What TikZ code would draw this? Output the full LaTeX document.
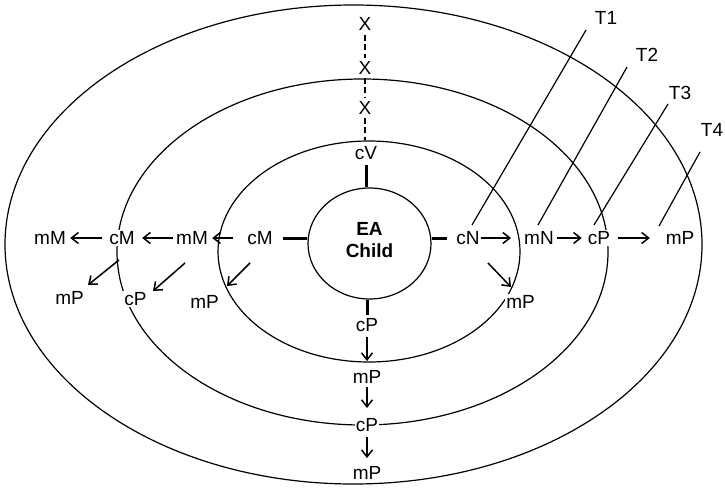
\documentclass[tikz,border=0pt]{standalone}
\usepackage{fontspec}
\setmainfont{Liberation Sans}
\usetikzlibrary{arrows.meta,shapes.geometric}
\begin{document}
\begin{tikzpicture}[x=1pt,y=-1pt,
  ring/.style={draw, ellipse, line width=1.2pt, inner sep=0pt},
  lbl/.style={fill=white, inner sep=1pt, font=\fontsize{19}{22}\selectfont},
  arr/.style={line width=1.5pt, -{Straight Barb[length=7pt,width=11pt,line width=1.5pt]}},
  thk/.style={line width=3pt},
  tline/.style={line width=1.2pt},
  dsh/.style={line width=1.2pt, dash pattern=on 6pt off 3.5pt}]
\useasboundingbox (0,0) rectangle (725,487);
% rings
\node[ring, minimum width=697pt, minimum height=479pt] (ringA) at (353.5,244.5) {};
\node[ring, minimum width=491pt, minimum height=346pt] (ringB) at (362.5,252) {};
\node[ring, minimum width=302pt, minimum height=221pt] (ringC) at (369,251.5) {};
\node[ring, minimum width=123pt, minimum height=111pt] (child) at (369.5,243.5) {};
\node[font=\fontsize{19}{22}\selectfont\bfseries, align=center] (childtext) at (369.5,240) {EA\\Child};
% labels
\node[lbl] (xa) at (365,24) {X};
\node[lbl] (xb) at (365,68) {X};
\node[lbl] (xc) at (365,108) {X};
\node[lbl] (cv) at (366,153) {cV};
\node[lbl] (cmi) at (260,238) {cM};
\node[lbl] (mmi) at (192,238) {mM};
\node[lbl] (cmm) at (122,238) {cM};
\node[lbl] (mmo) at (50,238) {mM};
\node[lbl] (mpa) at (69.5,298) {mP};
\node[lbl] (cpa) at (135.5,299) {cP};
\node[lbl] (mpb) at (204.5,302) {mP};
\node[lbl] (cn) at (468,238) {cN};
\node[lbl] (mn) at (539,238) {mN};
\node[lbl] (cpr) at (599,238) {cP};
\node[lbl] (mpr) at (680,238) {mP};
\node[lbl] (mpd) at (520.5,302) {mP};
\node[lbl] (cp1) at (367,325) {cP};
\node[lbl] (mp1) at (367,377) {mP};
\node[lbl] (cp2) at (367,425) {cP};
\node[lbl] (mp2) at (367,473) {mP};
\node[lbl] (t1) at (606,18) {T1};
\node[lbl] (t2) at (647,55) {T2};
\node[lbl] (t3) at (680,93) {T3};
\node[lbl] (t4) at (712,130) {T4};
% dashed
\draw[dsh, shorten <=3pt, shorten >=2pt] (xa) -- (xb);
\draw[dsh, shorten <=2pt, shorten >=2pt] (xb) -- (xc);
\draw[dsh, shorten <=2pt] (xc) -- (xc |- ringC.north);
% thick stubs
\draw[thk, shorten <=4.2pt] (cv) -- (cv |- child.north);
\draw[thk, shorten <=2.2pt] (cp1) -- (cp1 |- child.south);
\draw[thk, shorten <=9.3pt] (cmi) -- (cmi -| child.west);
\draw[thk, shorten <=8.4pt] (cn) -- (cn -| child.east);
% horizontal arrows
\draw[arr, shorten >=12pt] (cn) -- (mn);
\draw[arr, shorten <=2pt, shorten >=5pt] (mn) -- (cpr);
\draw[arr, shorten <=7pt, shorten >=14.7pt] (cpr) -- (mpr);
\draw[arr, shorten <=13.3pt, shorten >=3.2pt] (cmi) -- (mmi);
\draw[arr, shorten <=2.2pt, shorten >=6.3pt] (mmi) -- (cmm);
\draw[arr, shorten <=6.3pt, shorten >=3.2pt] (cmm) -- (mmo);
% vertical arrows
\draw[arr, shorten <=4.2pt, shorten >=8.2pt] (cp1) -- (mp1);
\draw[arr, shorten <=2.2pt, shorten >=9.2pt] (mp1) -- (cp2);
\draw[arr, shorten <=4.2pt, shorten >=7.2pt] (cp2) -- (mp2);
% diagonal arrows
\draw[arr] ([shift={(20,25)}]cn.center) -- ([shift={(-9.5,-15)}]mpd.center);
\draw[arr] ([shift={(-3,22)}]cmm.center) -- ([shift={(18.5,-13)}]mpa.center);
\draw[arr] ([shift={(-7,25)}]mmi.center) -- ([shift={(17.5,-8)}]cpa.center);
\draw[arr] ([shift={(-10,25)}]cmi.center) -- ([shift={(22.5,-16)}]mpb.center);
% T lines
\draw[tline] ([shift={(-20,12)}]t1.center) -- ([shift={(4,-13)}]cn.center);
\draw[tline] ([shift={(-20,12)}]t2.center) -- ([shift={(-1,-13)}]mn.center);
\draw[tline] ([shift={(-12,11)}]t3.center) -- ([shift={(-5,-13)}]cpr.center);
\draw[tline] ([shift={(-12,22)}]t4.center) -- ([shift={(-21,-12)}]mpr.center);
\end{tikzpicture}
\end{document}
